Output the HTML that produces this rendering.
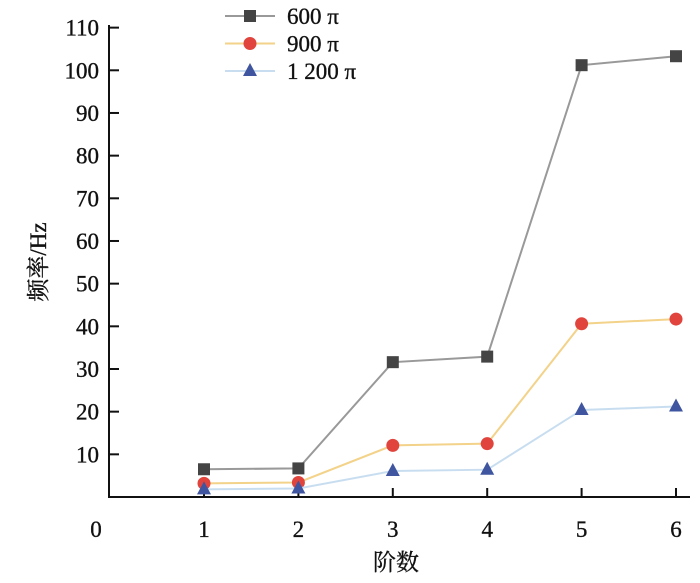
<!DOCTYPE html>
<html><head><meta charset="utf-8"><style>
body{margin:0;background:#fff;width:700px;height:578px;overflow:hidden}
text{font-family:"Liberation Serif","Noto Serif CJK SC",serif;fill:#111;stroke:#111;stroke-width:0.35}
</style></head><body>
<svg id="chart" width="700" height="578" xmlns="http://www.w3.org/2000/svg"></svg>
<script>
const categories=[1,2,3,4,5,6];
const s600=[6.5,6.7,31.6,32.9,101.2,103.3];
const s900=[3.2,3.4,12.1,12.5,40.6,41.7];
const s1200=[1.8,2.0,6.1,6.4,20.4,21.2];
const yTicks=[10,20,30,40,50,60,70,80,90,100,110];
const xTicks=[1,2,3,4,5,6];
const seriesNames=["600 π","900 π","1 200 π"];

const NS="http://www.w3.org/2000/svg";
const svg=document.getElementById('chart');
function xs(v){return 204+(v-1)*94.4;}
function ys(v){return 497-v*4.267;}
function el(t,a,p){const e=document.createElementNS(NS,t);for(const k in a)e.setAttribute(k,a[k]);(p||svg).appendChild(e);return e;}

let ax=el('path',{d:'M109,25 V497 H690',fill:'none',stroke:'#111','stroke-width':2});


yTicks.forEach(t=>{
 const y=ys(t);
 const l=el('line',{x1:109,x2:119,y1:y,y2:y,stroke:'#111','stroke-width':2});
 
 
 const tx=el('text',{x:99,y:y+8,'text-anchor':'end','font-size':23});
 tx.textContent=t;
 
 
});
xTicks.forEach(t=>{
 const x=xs(t);
 const l=el('line',{x1:x,x2:x,y1:497,y2:488,stroke:'#111','stroke-width':2});
 
 
 const tx=el('text',{x:x,y:537,'text-anchor':'middle','font-size':23});
 tx.textContent=t;
 
 
});
let z=el('text',{x:96,y:537,'text-anchor':'middle','font-size':23});z.textContent='0';



function marker(type,x,y,color,g){
 if(type==='sq')return el('rect',{x:x-6,y:y-6,width:12,height:12,fill:color},g);
 if(type==='ci')return el('circle',{cx:x,cy:y,r:6.5,fill:color},g);
 return el('path',{d:`M${x},${y-8} L${x+7},${y+5} L${x-7},${y+5} Z`,fill:color},g);
}
const series=[[s600,'#999','#444','sq'],[s900,'#f3d28a','#e0443c','ci'],[s1200,'#c8def0','#3f55a0','tr']];
series.forEach((s,i)=>{
 const g=el('g',{});
 
 
 const pts=s[0].map((v,j)=>xs(categories[j])+','+ys(v)).join(' ');
 el('polyline',{points:pts,fill:'none',stroke:s[1],'stroke-width':2},g);
 s[0].forEach((v,j)=>{const m=marker(s[3],xs(categories[j]),ys(v),s[2],g);
  
  });
 const ly=16+i*27.5;
 const lg=el('g',{});
 
 
 el('line',{x1:225,x2:275,y1:ly,y2:ly,stroke:s[1],'stroke-width':2},lg);
 marker(s[3],250,ly,s[2],lg);
 const t=el('text',{x:287,y:ly+8,'font-size':23},lg);t.textContent=seriesNames[i];
});
let yt=el('text',{x:0,y:0,'font-size':23,'text-anchor':'middle',transform:'translate(46,262) rotate(-90)'});
yt.textContent='频率/Hz';


let xt=el('text',{x:396,y:570,'font-size':23,'text-anchor':'middle'});
xt.textContent='阶数';


</script>
</body></html>
